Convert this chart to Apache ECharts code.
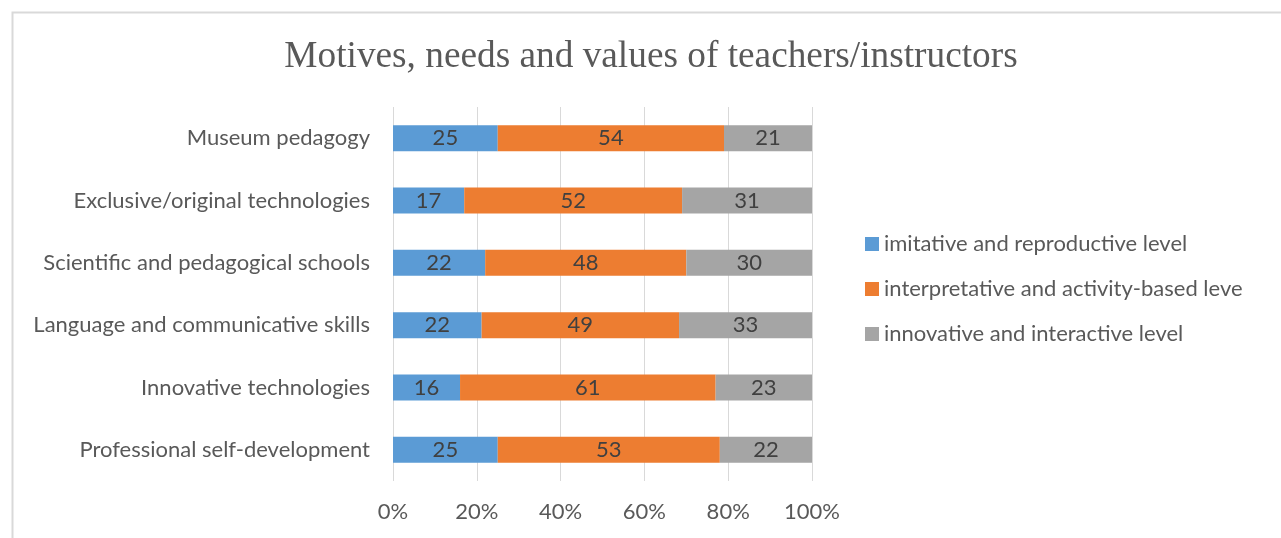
<!DOCTYPE html>
<html><head><meta charset="utf-8">
<script src="https://cdn.jsdelivr.net/npm/echarts@6/dist/echarts.min.js"></script>
<style>html,body{margin:0;padding:0;background:#fff}#c{width:1281px;height:538px}</style>
</head><body><div id="c"></div>
<script>
const categories = ['Professional self-development','Innovative technologies','Language and communicative skills','Scientific and pedagogical schools','Exclusive/original technologies','Museum pedagogy'];
const imitative = [25,16,22,22,17,25];
const interpretative = [53,61,49,48,52,54];
const innovative = [22,23,33,30,31,21];
const seriesNames = ['imitative and reproductive level','interpretative and activity-based leve','innovative and interactive level'];
const tickLabels = ['0%','20%','40%','60%','80%','100%'];
const colors = ['#5B9BD5','#ED7D31','#A5A5A5'];

const totals = categories.map((c,i)=>imitative[i]+interpretative[i]+innovative[i]);
const raw = [imitative, interpretative, innovative];
const FONT = 'Lato';
const FS = 22;
const chart = echarts.init(document.getElementById('c'));
chart.setOption({
  animation:false,
  textStyle:{fontFamily:FONT},
  title:{text:'Motives, needs and values of teachers/instructors',left:646,textAlign:'center',top:34,
    textStyle:{fontFamily:'Liberation Serif',fontSize:37.3,fontWeight:'normal',color:'#595959'}},
  graphic:[{type:'rect',left:10,top:10,shape:{width:1300,height:600},style:{fill:'none',stroke:'#d9d9d9',lineWidth:2},silent:true}],
  legend:{orient:'vertical',left:860,top:228,itemGap:23,itemWidth:14,itemHeight:14,icon:'rect',
    textStyle:{fontFamily:FONT,fontSize:FS,color:'#595959'},data:seriesNames},
  grid:{left:393,right:469,top:107,bottom:57,containLabel:false},
  xAxis:{type:'value',min:0,max:100,interval:20,
    axisLine:{show:false},axisTick:{show:false},
    splitLine:{show:true,lineStyle:{color:'#d9d9d9',width:1}},
    axisLabel:{formatter:v=>tickLabels[v/20],fontSize:FS,color:'#595959',margin:20,fontFamily:FONT}},
  yAxis:{type:'category',data:categories,axisLine:{show:false},axisTick:{show:false},
    axisLabel:{fontSize:FS,color:'#595959',margin:23,fontFamily:FONT}},
  series: raw.map((arr,si)=>({
    name:seriesNames[si],type:'bar',stack:'t',barWidth:26,
    itemStyle:{color:colors[si]},
    data:arr.map((v,i)=>({value:v/totals[i]*100})),
    label:{show:true,position:'inside',fontSize:FS,color:'#404040',fontFamily:FONT,
      formatter:p=>raw[si][p.dataIndex]}
  }))
});
</script></body></html>
